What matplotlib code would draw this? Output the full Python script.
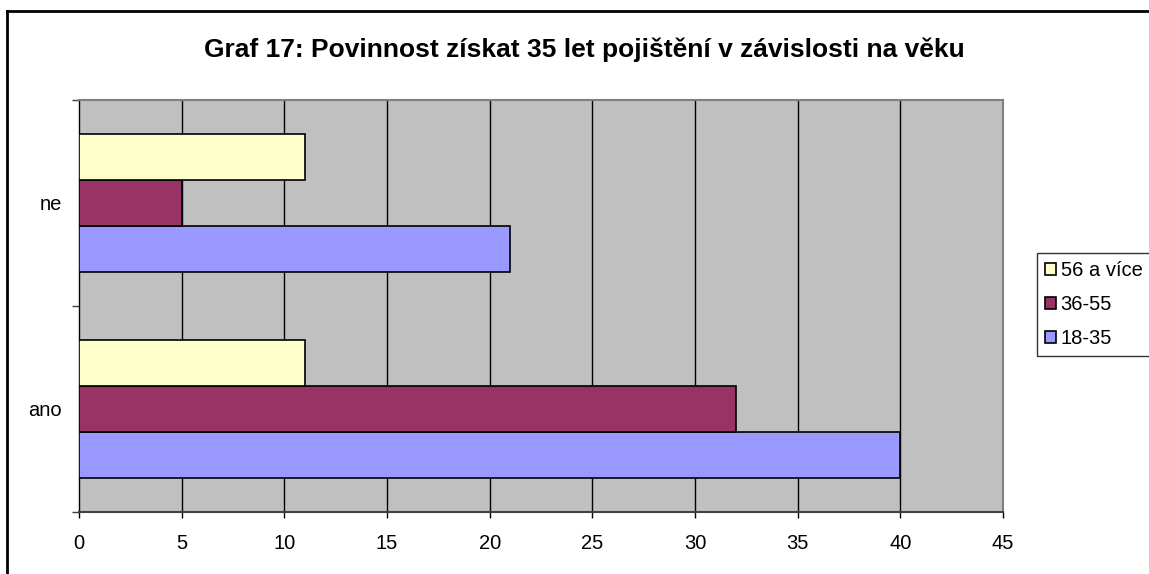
import matplotlib
matplotlib.use("Agg")
import matplotlib.pyplot as plt
from matplotlib.patches import Patch
from matplotlib.lines import Line2D
import numpy as np

plt.rcParams['font.family'] = ['Liberation Sans', 'DejaVu Sans']

categories = ["ano", "ne"]
series_names = ["18-35", "36-55", "56 a více"]
values_18_35 = [40, 21]
values_36_55 = [32, 5]
values_56_plus = [11, 11]
colors = ["#9999FF", "#993366", "#FFFFCC"]
xticks = [0, 5, 10, 15, 20, 25, 30, 35, 40, 45]
title = "Graf 17: Povinnost získat 35 let pojištění v závislosti na věku"

W, H = 1149, 574
fig = plt.figure(figsize=(W / 100, H / 100), dpi=100)
fig.patch.set_facecolor("white")

ax = fig.add_axes([79 / W, (H - 512) / H, (1003 - 79) / W, (512 - 100) / H])
ax.set_facecolor("#C0C0C0")

y = np.arange(len(categories))
h = 1 / 4.5
all_vals = [values_18_35, values_36_55, values_56_plus]
for i, (vals, col) in enumerate(zip(all_vals, colors)):
    ax.barh(y + (i - 1) * h, vals, height=h, color=col, edgecolor="black",
            linewidth=1.2, zorder=3)

ax.set_xlim(0, 45)
ax.set_ylim(-0.5, 1.5)
ax.set_xticks(xticks)
ax.set_xticklabels([str(t) for t in xticks], fontsize=14.5)
ax.set_yticks(y)
ax.set_yticklabels(categories, fontsize=14.5)
ax.set_yticks([-0.5, 0.5, 1.5], minor=True)
ax.tick_params(axis="y", which="major", length=0, pad=12.5)
ax.tick_params(axis="y", which="minor", length=5, width=1, color="#404040")
ax.tick_params(axis="x", length=4.5, width=1, pad=11, color="black")

for xv in xticks[1:-1]:
    ax.axvline(xv, color="black", linewidth=1, zorder=1)

ax.spines["left"].set_color("black")
ax.spines["left"].set_linewidth(1)
ax.spines["bottom"].set_color("#404040")
ax.spines["bottom"].set_linewidth(1.5)
ax.spines["top"].set_color("#808080")
ax.spines["top"].set_linewidth(1.5)
ax.spines["right"].set_color("#808080")
ax.spines["right"].set_linewidth(1.5)

fig.text(584 / W, 1 - 56.5 / H, title, ha="center", va="baseline",
         fontsize=19, fontweight="bold")

handles = [Patch(facecolor=colors[i], edgecolor="black", linewidth=1.2)
           for i in [2, 1, 0]]
labels = [series_names[i] for i in [2, 1, 0]]
leg = fig.legend(handles, labels, loc="upper left",
                 bbox_to_anchor=(1036.5 / W, 1 - 253 / H),
                 bbox_transform=fig.transFigure, fontsize=14.5,
                 frameon=True, fancybox=False, shadow=False,
                 handlelength=0.55, handleheight=0.55, handletextpad=0.25,
                 borderpad=0.4, labelspacing=0.75, borderaxespad=0)
leg.get_frame().set_edgecolor("black")
leg.get_frame().set_linewidth(1)

fig.add_artist(Line2D([7 / W, 7 / W], [0, 1 - 11 / H], color="black",
                      linewidth=2, transform=fig.transFigure))
fig.add_artist(Line2D([7 / W, 1], [1 - 11 / H, 1 - 11 / H], color="black",
                      linewidth=2, transform=fig.transFigure))

fig.savefig("out.png", dpi=100)
